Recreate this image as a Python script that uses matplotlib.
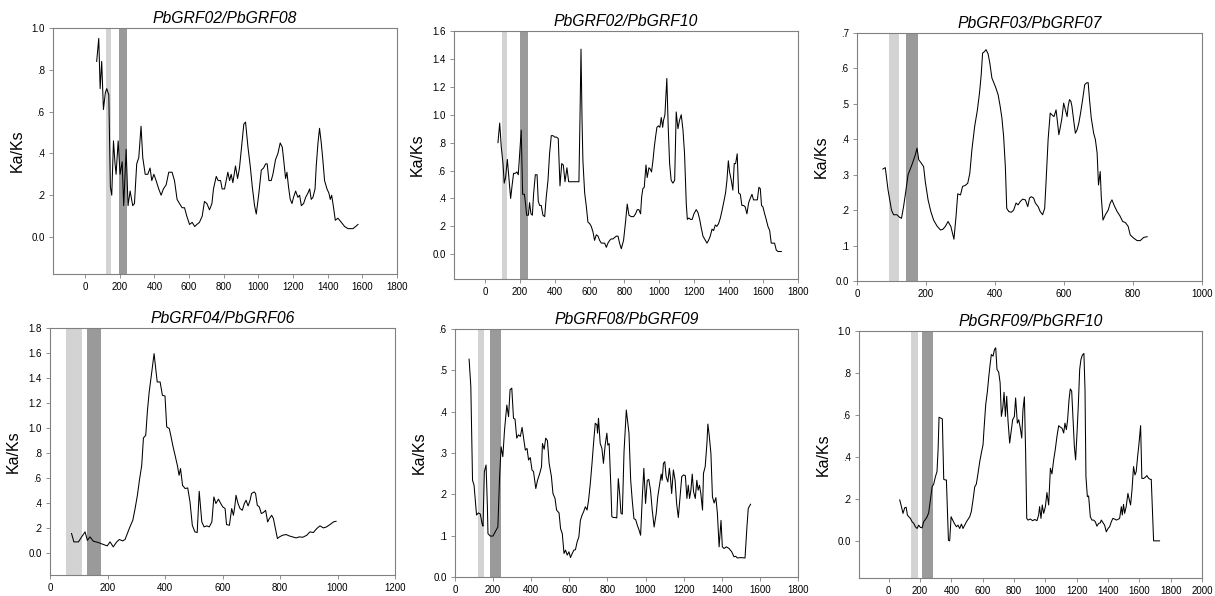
import matplotlib
matplotlib.use("Agg")
import matplotlib.pyplot as plt
from matplotlib.ticker import FuncFormatter

plt.rcParams['font.family'] = ['Liberation Sans', 'DejaVu Sans']

# ---- data: (position, Ka/Ks) ----
p1 = [(67, .84), (79, .95), (87, .71), (96, .84), (106, .61), (117, .69), (125, .71), (137, .68),
      (146, .24), (154, .20), (164, .46), (173, .35), (179, .30), (191, .46), (202, .30), (214, .36),
      (223, .15), (237, .42), (248, .15), (260, .22), (275, .15), (285, .16), (298, .35), (310, .38),
      (323, .53), (333, .38), (347, .30), (362, .30), (375, .33), (385, .27), (397, .30), (410, .27),
      (425, .23), (439, .20), (452, .23), (468, .25), (483, .31), (502, .31), (516, .27), (531, .18),
      (545, .16), (560, .14), (574, .14), (587, .10), (603, .06), (618, .07), (633, .05), (645, .06),
      (660, .07), (676, .10), (689, .17), (703, .16), (718, .13), (732, .16), (741, .23), (757, .29),
      (768, .27), (782, .27), (791, .23), (805, .23), (824, .31), (834, .27), (843, .30), (853, .26),
      (868, .34), (880, .28), (891, .33), (903, .43), (916, .54), (926, .55), (940, .43), (953, .34),
      (965, .24), (978, .15), (988, .11), (1003, .21), (1017, .32), (1030, .33), (1042, .35), (1051, .35),
      (1061, .27), (1074, .27), (1084, .30), (1099, .37), (1113, .40), (1126, .45), (1138, .43), (1146, .37),
      (1157, .28), (1165, .31), (1174, .24), (1184, .18), (1194, .16), (1203, .19), (1215, .22), (1228, .19),
      (1238, .20), (1248, .15), (1261, .16), (1273, .19), (1286, .21), (1296, .23), (1305, .18), (1315, .19),
      (1327, .23), (1334, .34), (1344, .45), (1353, .52), (1363, .45), (1372, .37), (1382, .27), (1396, .23),
      (1407, .21), (1415, .18), (1423, .20), (1434, .14), (1444, .08), (1459, .09), (1479, .07), (1498, .05),
      (1517, .04), (1546, .04), (1575, .06)]

p2 = [(73, .80), (83, .94), (92, .77), (102, .65), (109, .51), (117, .55), (127, .68), (136, .55),
      (146, .40), (155, .50), (163, .58), (173, .58), (182, .59), (190, .57), (198, .72), (207, .89),
      (215, .43), (225, .43), (232, .36), (238, .28), (248, .28), (255, .37), (263, .29), (271, .28),
      (278, .43), (288, .57), (298, .57), (305, .38), (313, .35), (322, .35), (332, .28), (342, .27),
      (351, .41), (361, .53), (370, .72), (380, .85), (390, .85), (399, .84), (409, .84), (420, .83),
      (430, .49), (440, .65), (449, .64), (459, .52), (470, .62), (480, .52), (495, .52), (514, .52),
      (539, .52), (545, .96), (551, 1.47), (557, .96), (562, .67), (572, .44), (581, .35), (591, .23),
      (601, .22), (610, .20), (620, .16), (629, .10), (639, .14), (649, .13), (658, .10), (668, .08),
      (677, .08), (687, .08), (697, .05), (706, .08), (716, .10), (725, .11), (735, .11), (745, .12),
      (754, .13), (764, .13), (773, .08), (783, .04), (796, .10), (808, .24), (817, .36), (827, .28),
      (840, .27), (854, .27), (865, .29), (875, .32), (884, .32), (894, .29), (900, .41), (907, .47),
      (915, .48), (925, .64), (932, .55), (942, .62), (950, .61), (957, .59), (965, .67), (973, .77),
      (980, .84), (988, .91), (997, .92), (1005, .91), (1013, .98), (1021, .91), (1026, .96), (1034, 1.0),
      (1045, 1.26), (1053, .91), (1061, .65), (1070, .53), (1080, .51), (1090, .53), (1099, 1.02), (1109, .90),
      (1118, .96), (1128, 1.0), (1138, .89), (1147, .72), (1157, .36), (1163, .25), (1172, .26), (1182, .25),
      (1191, .25), (1201, .29), (1214, .32), (1224, .30), (1234, .25), (1243, .19), (1253, .13), (1262, .11),
      (1276, .08), (1285, .10), (1295, .13), (1305, .18), (1314, .17), (1324, .21), (1333, .20), (1343, .22),
      (1353, .26), (1362, .31), (1372, .37), (1383, .44), (1391, .53), (1399, .67), (1406, .59), (1416, .53),
      (1425, .46), (1433, .65), (1441, .65), (1450, .72), (1458, .44), (1468, .43), (1477, .35), (1487, .35),
      (1496, .34), (1506, .29), (1516, .37), (1525, .40), (1535, .43), (1544, .39), (1556, .39), (1566, .39),
      (1575, .48), (1583, .47), (1590, .35), (1598, .34), (1608, .29), (1617, .25), (1627, .20), (1637, .17),
      (1646, .08), (1656, .08), (1665, .08), (1675, .03), (1685, .02), (1704, .02)]

p3 = [(75, .316), (82, .32), (90, .257), (100, .20), (106, .187), (116, .187), (123, .18), (129, .177),
      (135, .21), (142, .257), (148, .30), (156, .32), (161, .333), (169, .356), (174, .375), (179, .342),
      (186, .333), (193, .323), (198, .28), (206, .229), (214, .196), (222, .172), (232, .155), (242, .144),
      (249, .146), (256, .154), (264, .168), (272, .154), (281, .118), (287, .182), (292, .246), (300, .243),
      (306, .267), (314, .27), (321, .276), (327, .304), (333, .37), (341, .436), (349, .483), (355, .53),
      (360, .582), (364, .643), (370, .648), (374, .653), (380, .641), (385, .615), (391, .573), (401, .549),
      (409, .526), (415, .493), (420, .46), (425, .408), (430, .323), (434, .205), (440, .196), (447, .194),
      (454, .20), (461, .22), (467, .215), (473, .224), (480, .231), (488, .229), (495, .21), (500, .234),
      (505, .238), (512, .234), (517, .22), (525, .21), (531, .196), (538, .187), (544, .205), (548, .28),
      (554, .40), (560, .474), (565, .469), (571, .464), (577, .483), (582, .441), (585, .413), (589, .432),
      (594, .46), (599, .502), (604, .483), (609, .464), (612, .493), (616, .512), (620, .507), (623, .493),
      (629, .446), (633, .417), (638, .427), (643, .446), (648, .474), (654, .512), (660, .554), (665, .559),
      (670, .56), (674, .512), (679, .46), (686, .417), (691, .399), (696, .361), (700, .271), (705, .309),
      (708, .238), (713, .172), (720, .187), (728, .20), (734, .22), (739, .229), (746, .212), (754, .196),
      (762, .184), (770, .168), (778, .165), (786, .154), (792, .13), (802, .121), (812, .114), (821, .114),
      (831, .123), (841, .125)]

p4 = [(75, .155), (83, .088), (99, .088), (110, .128), (122, .168), (130, .10), (139, .128), (151, .093),
      (168, .083), (186, .067), (199, .056), (209, .088), (220, .048), (232, .088), (241, .107), (253, .096),
      (261, .107), (269, .155), (278, .208), (288, .261), (296, .355), (304, .461), (311, .581), (319, .70),
      (325, .92), (333, .941), (339, 1.141), (345, 1.288), (354, 1.448), (362, 1.595), (369, 1.448), (373, 1.368),
      (383, 1.368), (391, 1.261), (400, 1.256), (406, 1.008), (415, .995), (420, .941), (427, .861), (435, .781),
      (443, .70), (449, .621), (454, .675), (461, .541), (470, .515), (479, .52), (487, .408), (495, .221),
      (504, .168), (512, .163), (519, .493), (528, .248), (536, .208), (545, .216), (554, .208), (563, .248),
      (570, .448), (577, .395), (586, .43), (594, .395), (601, .368), (609, .355), (614, .227), (624, .221),
      (632, .355), (638, .301), (643, .376), (647, .461), (654, .395), (661, .355), (669, .341), (676, .395),
      (682, .421), (689, .376), (696, .421), (701, .475), (710, .488), (715, .475), (721, .381), (728, .368),
      (735, .315), (742, .323), (750, .341), (757, .248), (763, .275), (771, .301), (777, .275), (784, .195),
      (791, .115), (798, .128), (809, .141), (821, .147), (832, .136), (844, .128), (856, .12), (867, .128),
      (879, .125), (893, .141), (904, .168), (916, .163), (928, .195), (939, .216), (951, .20), (962, .208),
      (974, .227), (986, .248), (995, .253)]

p5 = [(74, .527), (83, .461), (92, .234), (100, .222), (113, .15), (123, .155), (133, .152), (142, .129),
      (147, .123), (154, .255), (163, .271), (170, .17), (173, .105), (185, .099), (199, .099), (211, .109),
      (225, .121), (234, .243), (242, .315), (251, .291), (260, .356), (272, .416), (281, .388), (289, .453),
      (298, .457), (307, .384), (315, .382), (324, .336), (333, .344), (343, .34), (352, .362), (360, .336),
      (369, .307), (378, .311), (386, .283), (395, .289), (404, .259), (412, .255), (424, .214), (433, .234),
      (445, .251), (454, .267), (459, .323), (468, .309), (476, .336), (485, .33), (494, .275), (506, .243),
      (514, .202), (525, .19), (533, .162), (546, .155), (554, .117), (563, .105), (572, .057), (580, .065),
      (589, .053), (598, .061), (606, .047), (615, .057), (624, .065), (632, .066), (641, .085), (650, .097),
      (658, .137), (667, .15), (675, .158), (684, .17), (693, .162), (701, .186), (710, .226), (719, .275),
      (727, .323), (736, .372), (745, .368), (748, .348), (753, .384), (762, .323), (771, .311), (779, .275),
      (788, .319), (797, .348), (802, .319), (809, .323), (818, .218), (823, .146), (831, .144), (840, .144),
      (849, .143), (857, .238), (864, .202), (871, .154), (878, .152), (887, .303), (899, .404), (913, .348),
      (922, .234), (930, .186), (939, .141), (948, .139), (957, .125), (965, .115), (974, .101), (983, .194),
      (991, .263), (1000, .178), (1009, .234), (1017, .236), (1026, .21), (1035, .162), (1045, .121), (1056, .154),
      (1064, .194), (1073, .222), (1082, .249), (1087, .234), (1094, .275), (1101, .279), (1108, .243), (1117, .23),
      (1125, .263), (1130, .243), (1137, .202), (1146, .259), (1155, .234), (1163, .178), (1172, .144), (1181, .194),
      (1190, .243), (1200, .247), (1209, .245), (1217, .19), (1224, .222), (1231, .19), (1238, .21), (1245, .249),
      (1252, .206), (1261, .19), (1269, .234), (1276, .21), (1283, .222), (1290, .202), (1299, .162), (1304, .251),
      (1313, .267), (1322, .323), (1327, .37), (1334, .343), (1343, .299), (1351, .194), (1360, .179), (1369, .192),
      (1377, .154), (1386, .073), (1396, .137), (1403, .073), (1412, .069), (1424, .073), (1438, .069), (1452, .061),
      (1464, .049), (1473, .05), (1482, .046), (1499, .047), (1522, .046), (1532, .121), (1539, .166), (1551, .176)]

p6 = [(70, .195), (81, .163), (91, .131), (102, .158), (111, .16), (119, .123), (128, .115), (138, .107),
      (149, .091), (160, .083), (170, .067), (181, .059), (191, .075), (202, .064), (213, .062), (223, .091),
      (234, .102), (245, .115), (255, .134), (266, .195), (277, .258), (287, .271), (298, .306), (308, .33),
      (315, .434), (321, .589), (332, .585), (342, .581), (347, .418), (351, .293), (362, .29), (368, .29),
      (374, .163), (381, .003), (389, 0), (398, .115), (408, .099), (419, .083), (432, .067), (442, .075),
      (453, .059), (464, .08), (474, .059), (485, .075), (496, .091), (506, .102), (517, .115), (527, .139),
      (538, .195), (549, .258), (559, .27), (570, .322), (581, .378), (591, .418), (602, .458), (608, .53),
      (619, .649), (630, .713), (638, .777), (647, .84), (655, .888), (666, .88), (675, .912), (683, .92),
      (691, .817), (702, .804), (711, .753), (719, .593), (728, .633), (736, .708), (745, .593), (753, .689),
      (761, .577), (772, .466), (783, .53), (791, .577), (802, .593), (810, .681), (821, .561), (830, .577),
      (840, .537), (849, .49), (857, .625), (866, .686), (874, .418), (881, .107), (889, .099), (904, .104),
      (919, .096), (932, .102), (946, .096), (957, .123), (963, .163), (972, .107), (980, .171), (989, .131),
      (1000, .163), (1010, .23), (1021, .171), (1032, .346), (1042, .319), (1053, .386), (1063, .434), (1074, .498),
      (1085, .549), (1095, .542), (1106, .537), (1117, .514), (1125, .561), (1134, .53), (1142, .577), (1151, .673),
      (1159, .724), (1168, .713), (1176, .593), (1185, .45), (1193, .386), (1202, .514), (1210, .641), (1219, .817),
      (1227, .864), (1236, .885), (1246, .893), (1253, .721), (1259, .306), (1268, .211), (1276, .214), (1287, .115),
      (1297, .099), (1308, .099), (1319, .091), (1329, .07), (1340, .083), (1351, .086), (1357, .099), (1368, .086),
      (1378, .075), (1389, .043), (1400, .059), (1410, .067), (1421, .091), (1431, .107), (1442, .104), (1453, .099),
      (1463, .102), (1474, .107), (1485, .163), (1491, .123), (1499, .174), (1506, .131), (1516, .163), (1527, .226),
      (1536, .195), (1544, .171), (1553, .242), (1563, .354), (1572, .314), (1580, .33), (1589, .402), (1597, .458),
      (1608, .549), (1616, .298), (1627, .297), (1638, .303), (1648, .311), (1659, .298), (1670, .293), (1676, .293),
      (1691, 0), (1712, 0), (1729, 0)]

titles = ["PbGRF02/PbGRF08", "PbGRF02/PbGRF10", "PbGRF03/PbGRF07",
          "PbGRF04/PbGRF06", "PbGRF08/PbGRF09", "PbGRF09/PbGRF10"]
series = [p1, p2, p3, p4, p5, p6]

# shaded regions (light, dark)
light_bands = [(120, 150), (98, 124), (94, 123), (56, 112), (121, 154), (145, 187)]
dark_bands = [(195, 240), (201, 244), (142, 177), (129, 176), (186, 242), (213, 283)]

xlims = [(-185, 1800), (-180, 1800), (0, 1000), (0, 1200), (0, 1800), (-190, 2000)]
xmax_tick = [1800, 1800, 1000, 1200, 1800, 2000]
ylims = [(-0.177, 1.0), (-0.177, 1.6), (0, 0.7), (-0.177, 1.8), (0, 0.6), (-0.177, 1.0)]
ystep = [0.2, 0.2, 0.1, 0.2, 0.1, 0.2]

# axes boxes in pixels: left, top, right, bottom
W, H = 1215, 596
boxes = [(53, 28, 397, 274), (454, 31, 798, 279), (857, 33, 1202, 281),
         (50, 328, 395, 575), (455, 329, 798, 577), (859, 331, 1202, 578)]


def yfmt(v, pos):
    if abs(v) < 1e-9:
        return "0.0"
    s = "%.1f" % v
    if s.startswith("0."):
        s = s[1:]
    return s


fig = plt.figure(figsize=(W / 100, H / 100), dpi=100)
frame = '#808080'

for i in range(6):
    l, t, r, b = boxes[i]
    ax = fig.add_axes([l / W, 1 - b / H, (r - l) / W, (b - t) / H])
    xs = [p[0] for p in series[i]]
    ys = [p[1] for p in series[i]]
    ax.axvspan(*light_bands[i], color='#d3d3d3', lw=0, zorder=1)
    ax.axvspan(*dark_bands[i], color='#9a9a9a', lw=0, zorder=1)
    ax.plot(xs, ys, color='black', lw=0.75, zorder=3)
    ax.set_xlim(*xlims[i])
    ax.set_ylim(*ylims[i])
    ax.set_xticks(range(0, xmax_tick[i] + 1, 200))
    n = int(round(ylims[i][1] / ystep[i]))
    ax.set_yticks([k * ystep[i] for k in range(n + 1)])
    ax.yaxis.set_major_formatter(FuncFormatter(yfmt))
    for s in ax.spines.values():
        s.set_color(frame)
        s.set_linewidth(0.8)
    ax.tick_params(direction='out', length=3, width=0.6, color=frame,
                   labelsize=7, pad=3)
    ax.set_title(titles[i], fontsize=11.3, style='italic', pad=3.5)
    ax.set_ylabel("Ka/Ks", fontsize=11.5, labelpad=5)

fig.savefig("out.png", dpi=100)
